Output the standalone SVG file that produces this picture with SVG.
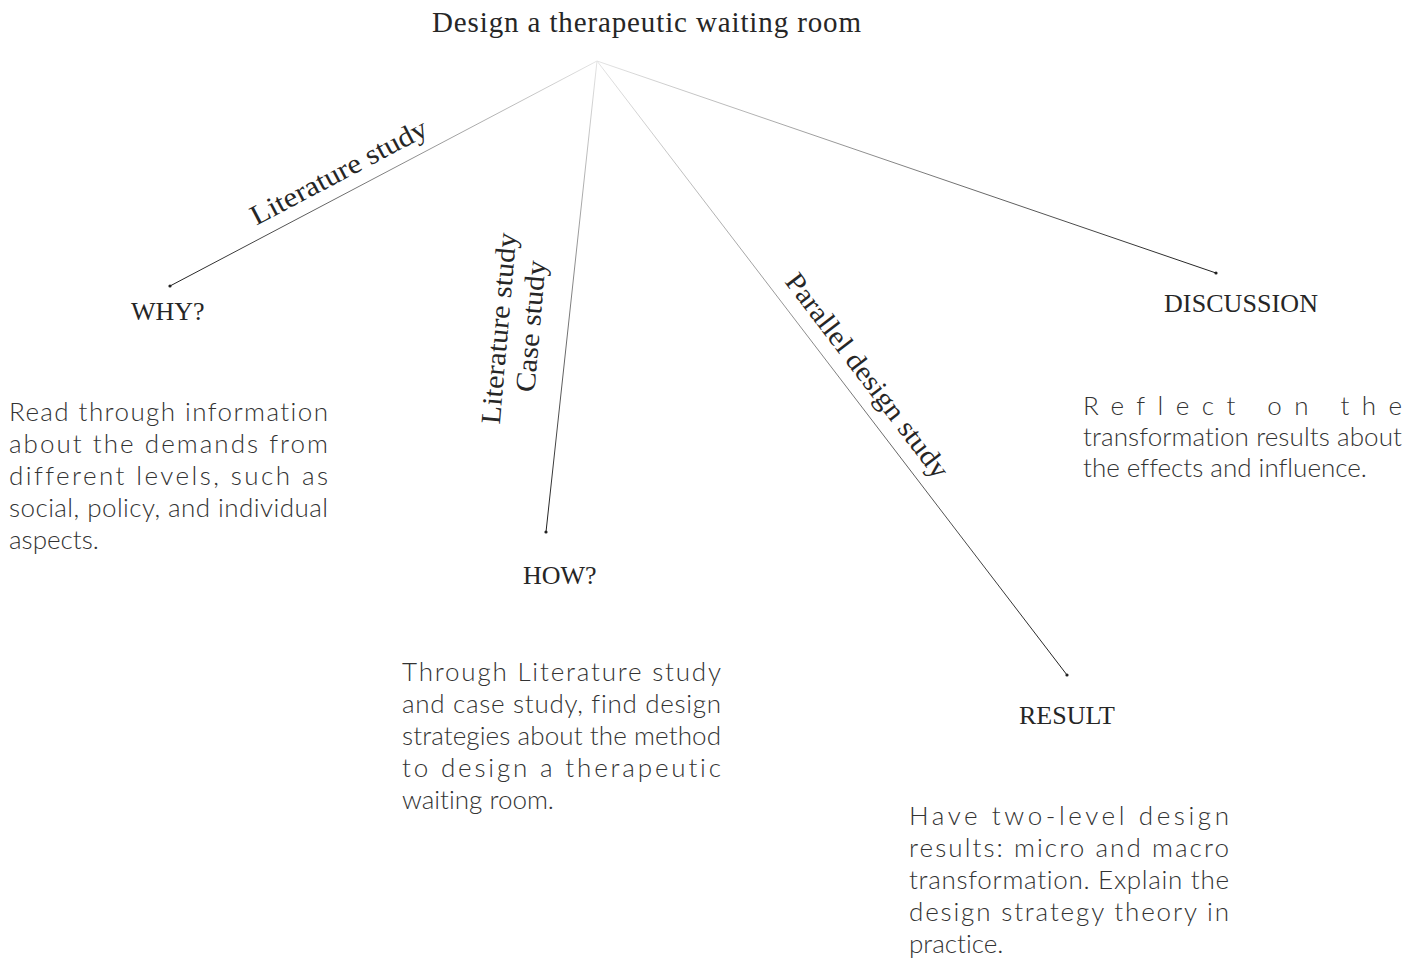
<svg xmlns="http://www.w3.org/2000/svg" width="1421" height="960" viewBox="0 0 1421 960">
  <style>
    .title { font-family: "Liberation Serif", "DejaVu Serif", serif; font-size: 29px; fill: #262626; }
    .label { font-family: "Liberation Serif", "DejaVu Serif", serif; font-size: 26px; fill: #262626; }
    .method { font-family: "Liberation Serif", "DejaVu Serif", serif; font-size: 28px; fill: #262626; }
    .para { font-family: Lato, "Open Sans", "Liberation Sans", sans-serif; font-weight: 300; font-size: 26px; fill: #333333; font-variant-ligatures: none; }
    .conn { fill: none; stroke-width: 1; }
    .dot { fill: #222222; }
  </style>
  <defs>
    <linearGradient id="gWhy" gradientUnits="userSpaceOnUse" x1="597" y1="61" x2="170" y2="286">
      <stop offset="0" stop-color="#e4e4e4"/>
      <stop offset="1" stop-color="#1e1e1e"/>
    </linearGradient>
    <linearGradient id="gHow" gradientUnits="userSpaceOnUse" x1="597" y1="61" x2="546" y2="532">
      <stop offset="0" stop-color="#e4e4e4"/>
      <stop offset="1" stop-color="#1e1e1e"/>
    </linearGradient>
    <linearGradient id="gResult" gradientUnits="userSpaceOnUse" x1="597" y1="61" x2="1067" y2="675">
      <stop offset="0" stop-color="#e4e4e4"/>
      <stop offset="1" stop-color="#1e1e1e"/>
    </linearGradient>
    <linearGradient id="gDisc" gradientUnits="userSpaceOnUse" x1="597" y1="61" x2="1216" y2="273">
      <stop offset="0" stop-color="#e4e4e4"/>
      <stop offset="1" stop-color="#1e1e1e"/>
    </linearGradient>
  </defs>

  <rect width="1421" height="960" fill="#ffffff"/>

  <!-- root -->
  <g id="root">
    <text class="title" x="432" y="32" textLength="429" lengthAdjust="spacing">Design a therapeutic waiting room</text>
  </g>

  <!-- connectors fanning out from the root -->
  <g id="connectors">
    <line class="conn" x1="597" y1="61" x2="170" y2="286" stroke="url(#gWhy)"/>
    <line class="conn" x1="597" y1="61" x2="546" y2="532" stroke="url(#gHow)"/>
    <line class="conn" x1="597" y1="61" x2="1067" y2="675" stroke="url(#gResult)"/>
    <line class="conn" x1="597" y1="61" x2="1216" y2="273" stroke="url(#gDisc)"/>
    <circle class="dot" cx="170" cy="286" r="1.6"/>
    <circle class="dot" cx="546" cy="532" r="1.6"/>
    <circle class="dot" cx="1067" cy="675" r="1.6"/>
    <circle class="dot" cx="1216" cy="273" r="1.6"/>
    <text class="method" transform="translate(343 180) rotate(-27.8)" text-anchor="middle" textLength="196" lengthAdjust="spacingAndGlyphs">Literature study</text>
    <text class="method" transform="translate(508 329) rotate(-85)" text-anchor="middle" textLength="192" lengthAdjust="spacingAndGlyphs">Literature study</text>
    <text class="method" transform="translate(540 327) rotate(-85)" text-anchor="middle" textLength="132" lengthAdjust="spacingAndGlyphs">Case study</text>
    <text class="method" transform="translate(860 381) rotate(52.6)" text-anchor="middle" textLength="250" lengthAdjust="spacingAndGlyphs">Parallel design study</text>
  </g>

  <g id="why">
    <text class="label" x="131" y="320">WHY?</text>
    <text class="para" x="9" y="421" textLength="319" lengthAdjust="spacing">Read through information</text>
    <text class="para" x="9" y="453" textLength="319" lengthAdjust="spacing">about the demands from</text>
    <text class="para" x="9" y="485" textLength="319" lengthAdjust="spacing">different levels, such as</text>
    <text class="para" x="9" y="517" textLength="319" lengthAdjust="spacing">social, policy, and individual</text>
    <text class="para" x="9" y="549">aspects.</text>
  </g>

  <g id="how">
    <text class="label" x="523" y="584">HOW?</text>
    <text class="para" x="402" y="681" textLength="319" lengthAdjust="spacing">Through Literature study</text>
    <text class="para" x="402" y="713" textLength="319" lengthAdjust="spacing">and case study, find design</text>
    <text class="para" x="402" y="745" textLength="319" lengthAdjust="spacing">strategies about the method</text>
    <text class="para" x="402" y="777" textLength="319" lengthAdjust="spacing">to design a therapeutic</text>
    <text class="para" x="402" y="809">waiting room.</text>
  </g>

  <g id="result">
    <text class="label" x="1019" y="724">RESULT</text>
    <text class="para" x="909" y="825" textLength="320" lengthAdjust="spacing">Have two-level design</text>
    <text class="para" x="909" y="857" textLength="320" lengthAdjust="spacing">results: micro and macro</text>
    <text class="para" x="909" y="889" textLength="320" lengthAdjust="spacing">transformation. Explain the</text>
    <text class="para" x="909" y="921" textLength="320" lengthAdjust="spacing">design strategy theory in</text>
    <text class="para" x="909" y="953">practice.</text>
  </g>

  <g id="discussion">
    <text class="label" x="1164" y="312" textLength="154" lengthAdjust="spacing">DISCUSSION</text>
    <text class="para" x="1083" y="415" textLength="319" lengthAdjust="spacing">Reflect on the</text>
    <text class="para" x="1083" y="446" textLength="319" lengthAdjust="spacing">transformation results about</text>
    <text class="para" x="1083" y="477">the effects and influence.</text>
  </g>
</svg>
